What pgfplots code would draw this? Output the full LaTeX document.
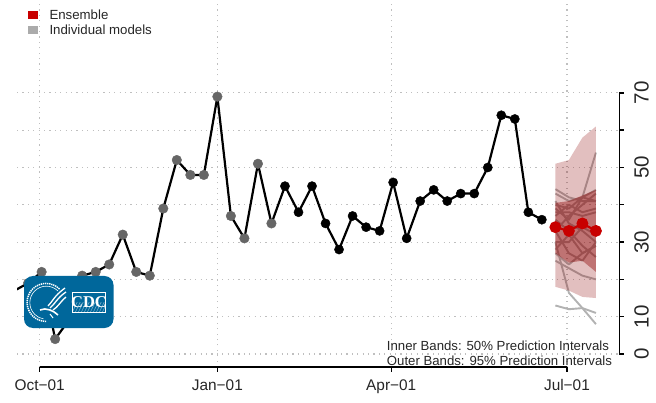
\documentclass[border=0pt]{standalone}
\usepackage{fontspec}
\setmainfont{Liberation Sans}
\newfontfamily\serifb{Liberation Serif}
\usepackage{pgfplots}
\pgfplotsset{compat=1.18}
\definecolor{band}{RGB}{139,0,0}
\definecolor{ens}{RGB}{200,0,0}
\definecolor{obsgray}{RGB}{102,102,102}
\definecolor{cdcblue}{RGB}{0,103,155}
\begin{document}
\begin{tikzpicture}
\path[use as bounding box] (0,0) rectangle (656pt,402pt);
\begin{axis}[
  at={(17pt,35pt)}, anchor=south west,
  width=602.3pt, height=367pt, scale only axis,
  xmin=-11.75, xmax=300.1, ymin=-3.49, ymax=94.9,
  axis line style={draw=none},
  xtick={0,92,182,273},
  xticklabels={Oct−01,Jan−01,Apr−01,Jul−01},
  ytick={0,10,20,30,40,50,60,70},
  yticklabels={0,10,,30,,50,,70},
  xtick pos=bottom, ytick pos=right,
  yticklabel pos=right,
  tick align=outside, major tick length=4.5pt,
  tick style={black,line width=1.4pt},
  xticklabel style={font=\fontsize{15.4}{15.4}\selectfont,text=black!85,yshift=-4.5pt},
  yticklabel style={font=\fontsize{20.5}{20.5}\selectfont,rotate=90,anchor=north,text=black!85,yshift=-7pt},
  xmajorgrids, ymajorgrids,
  grid style={color=black!25,line width=1.1pt,dash pattern=on 1.1pt off 4.3pt},
]
% individual models, beneath the bands
\pgfplotsset{model/.style={color=black!30,line width=1.9pt,no marks,line join=round}}
\addplot[model] coordinates {(267,43) (274,41) (281,42) (288,54)};
\addplot[model] coordinates {(267,44.2) (274,42) (281,41) (288,41)};
\addplot[model] coordinates {(267,40) (274,39) (281,42) (288,44)};
\addplot[model] coordinates {(267,39) (274,36) (281,42) (288,41)};
\addplot[model] coordinates {(267,37) (274,40) (281,38) (288,39)};
\addplot[model] coordinates {(267,41) (274,35) (281,33) (288,30)};
\addplot[model] coordinates {(267,38) (274,38) (281,37) (288,38)};
\addplot[model] coordinates {(267,33) (274,37) (281,40) (288,43)};
\addplot[model] coordinates {(267,30) (274,30) (281,34) (288,32)};
\addplot[model] coordinates {(267,28) (274,32) (281,27) (288,29)};
\addplot[model] coordinates {(267,27) (274,24) (281,27) (288,29)};
\addplot[model] coordinates {(267,36) (274,33) (281,29) (288,26)};
\addplot[model] coordinates {(267,33) (274,27) (281,25) (288,30)};
\addplot[model] coordinates {(267,25) (274,23) (281,21) (288,20)};
\addplot[model] coordinates {(267,30) (274,16.4) (281,12.3) (288,8)};
\addplot[model] coordinates {(267,13) (274,12) (281,12.3) (288,11)};
% outer 95% band
\addplot[draw=none,fill=band,fill opacity=0.25] coordinates {
 (267,51) (274,52) (281,58) (288,61) (288,15) (281,15.3) (274,17) (267,18)};
% inner 50% band
\addplot[draw=none,fill=band,fill opacity=0.40] coordinates {
 (267,40.5) (274,41) (281,42.5) (288,44) (288,22) (281,25) (274,24.5) (267,27)};
% observed: early marks in grey beneath the line
\addplot[only marks,mark=*,mark size=4.8pt,color=obsgray] coordinates {
 (-13,17) (-6,19) (1,22) (8,4) (15,9) (22,21) (29,22) (36,24) (43,32) (50,22) (57,21)
 (64,39) (71,52) (78,48) (85,48) (92,69) (99,37) (106,31) (113,51) (120,35)};
\addplot[black,line width=2.2pt,no marks,line join=round] coordinates {
 (-13,17) (-6,19) (1,22) (8,4) (15,9) (22,21) (29,22) (36,24) (43,32) (50,22) (57,21)
 (64,39) (71,52) (78,48) (85,48) (92,69) (99,37) (106,31) (113,51) (120,35)
 (127,45) (134,38) (141,45) (148,35) (155,28) (162,37) (169,34) (176,33) (183,46) (190,31)
 (197,41) (204,44) (211,41) (218,43) (225,43) (232,50) (239,64) (246,63) (253,38) (260,36)};
\addplot[only marks,mark=*,mark size=4.6pt,color=black] coordinates {
 (127,45) (134,38) (141,45) (148,35) (155,28) (162,37) (169,34) (176,33) (183,46) (190,31)
 (197,41) (204,44) (211,41) (218,43) (225,43) (232,50) (239,64) (246,63) (253,38) (260,36)};
% ensemble
\addplot[ens,line width=2.2pt,mark=*,mark size=4.8pt,mark options={fill=ens,draw=ens}] coordinates {
 (267,34) (274,33) (281,35) (288,33)};
\end{axis}
\begin{scope}[shift={(0,402pt)},x=1pt,y=-1pt]
  % R-style axis lines
  \draw[black,line width=1.4pt,line cap=square] (39.7,367) -- (567,367);
  \draw[black,line width=1.4pt,line cap=square] (619.3,93) -- (619.3,354);
  % legend
  \fill[ens] (28,11) rectangle (38,19);
  \fill[black!33] (28,26) rectangle (38,34);
  \node[anchor=base west,inner sep=0pt,text=black!85,font=\fontsize{13.25}{13.25}\selectfont] at (49.3,20) {Ensemble};
  \node[anchor=base west,inner sep=0pt,text=black!85,font=\fontsize{13.25}{13.25}\selectfont] at (49.3,34.5) {Individual models};
  % note
  \node[anchor=base west,inner sep=0pt,text=black!85,font=\fontsize{13.2}{13.2}\selectfont] at (386.7,350.5) {Inner Bands: 50\% Prediction Intervals};
  \node[anchor=base west,inner sep=0pt,text=black!85,font=\fontsize{13.2}{13.2}\selectfont] at (386.7,365.5) {Outer Bands: 95\% Prediction Intervals};
  % CDC badge
  \fill[cdcblue,rounded corners=9pt] (24,276) rectangle (113.5,328);
  \draw[white,line width=1.5pt,dash pattern=on 1.3pt off 0.8pt] (59.5,289) arc[start angle=-45,delta angle=-225,radius=19];
  \draw[white,line width=0.6pt] (58,291) arc[start angle=-45,delta angle=-215,radius=16.5];
  \draw[white,line width=1.3pt] (48,306) .. controls (53,301) and (54,296) .. (65,288);
  \draw[white,line width=1.3pt] (50,308) .. controls (55,304) and (57,298) .. (66,292);
  \draw[white,line width=1.3pt] (53,310) .. controls (58,307) and (60,302) .. (66,297);
  \draw[white,line width=1.6pt] (40,310) .. controls (46,307) and (54,311) .. (58,315);
  \draw[white,line width=1.0pt] (50,314) -- (53,318);
  \draw[white,line width=0.8pt] (72.5,292) rectangle (105.5,312.5);
  \begin{scope}
    \clip (72.5,302) rectangle (105.5,312.5);
    \foreach \i in {0,3,...,45} \draw[white,opacity=0.5,line width=0.5pt] (66+\i,313) -- (76+\i,292);
  \end{scope}
  \node[inner sep=0pt,text=white,font=\serifb\bfseries\fontsize{16.5}{16.5}\selectfont] at (89,302.5) {CDC};
\end{scope}
\end{tikzpicture}
\end{document}
